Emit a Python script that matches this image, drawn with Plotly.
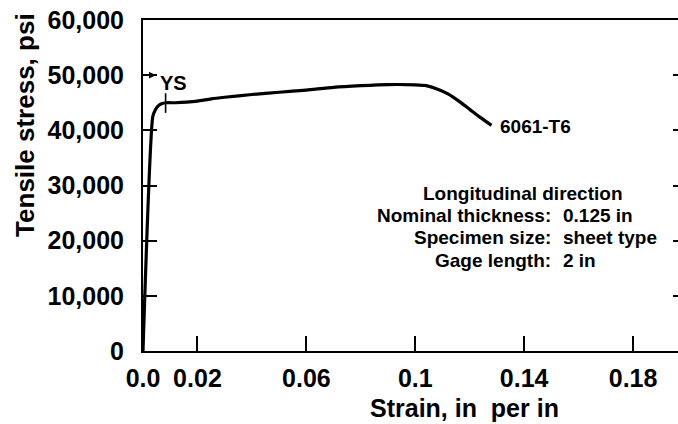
import plotly.graph_objects as go

# Data
strain = [0.0, 0.0036, 0.0045, 0.0055, 0.007, 0.0085, 0.012, 0.016, 0.02, 0.025,
          0.03, 0.04, 0.05, 0.06, 0.07, 0.08, 0.09, 0.1, 0.104, 0.108, 0.112,
          0.116, 0.12, 0.124, 0.128]
stress = [0, 42500, 43700, 44400, 44850, 45000, 45000, 45100, 45300, 45700,
          46000, 46500, 46900, 47300, 47800, 48100, 48300, 48250, 48100, 47500, 46600,
          45300, 43800, 42300, 40900]
ys_strain = [0.0083]
ys_stress = [44950]

x_tickvals = [0.0, 0.02, 0.06, 0.1, 0.14, 0.18]
x_ticktext = ["0.0", "0.02", "0.06", "0.1", "0.14", "0.18"]
y_tickvals = [0, 10000, 20000, 30000, 40000, 50000, 60000]
y_ticktext = ["0", "10,000", "20,000", "30,000", "40,000", "50,000", "60,000"]
right_tickvals = [10000, 20000, 30000, 40000, 50000]

alloy_label = "6061-T6"
info_title = "Longitudinal direction"
info_labels = ["Nominal thickness:", "Specimen size:", "Gage length:"]
info_values = ["0.125 in", "sheet type", "2 in"]

FONT = "Liberation Sans, Arial, Helvetica, sans-serif"

fig = go.Figure()
fig.add_trace(go.Scatter(x=strain, y=stress, mode="lines",
                         line=dict(color="black", width=3.2, shape="spline", smoothing=0.6),
                         hoverinfo="skip", showlegend=False))
fig.add_trace(go.Scatter(x=ys_strain, y=ys_stress, mode="markers",
                         marker=dict(symbol="line-ns-open", size=14, color="black",
                                     line=dict(color="black", width=1.6)),
                         hoverinfo="skip", showlegend=False))
fig.add_trace(go.Scatter(x=[strain[0]], y=[stress[0]], mode="markers", yaxis="y2",
                         marker=dict(opacity=0), hoverinfo="skip", showlegend=False))

ann = []
ann.append(dict(x=0.0112, y=48580, xref="x", yref="y", text="YS", showarrow=False,
                font=dict(family=FONT, size=20, color="black", weight="bold")))
ann.append(dict(x=0.0047, y=50000, ax=0.0, ay=50000, xref="x", yref="y",
                axref="x", ayref="y", text="", showarrow=True, arrowhead=2,
                arrowsize=0.9, arrowwidth=1.5, arrowcolor="black"))
ann.append(dict(x=0.1304, y=40780, xref="x", yref="y", text=alloy_label, showarrow=False,
                xanchor="left", font=dict(family=FONT, size=19, color="black", weight="bold")))
ann.append(dict(x=0.1394, y=28640, xref="x", yref="y", text=info_title, showarrow=False,
                font=dict(family=FONT, size=19, color="black", weight="bold")))
row_y = [24650, 20660, 16490]
for lab, val, yy in zip(info_labels, info_values, row_y):
    ann.append(dict(x=0.1506, y=yy, xref="x", yref="y", text=lab, showarrow=False,
                    xanchor="right", font=dict(family=FONT, size=19, color="black", weight="bold")))
    ann.append(dict(x=0.1536, y=yy, xref="x", yref="y", text=val, showarrow=False,
                    xanchor="left", font=dict(family=FONT, size=19, color="black", weight="bold")))
ann.append(dict(x=0.6, y=-0.172, xref="paper", yref="paper", text="Strain, in&nbsp; per in",
                showarrow=False, xanchor="center", yanchor="middle",
                font=dict(family=FONT, size=25, color="black", weight="bold")))
ann.append(dict(x=-0.2206, y=0.683, xref="paper", yref="paper", text="Tensile stress, psi",
                showarrow=False, textangle=-90, xanchor="center", yanchor="middle",
                font=dict(family=FONT, size=26, color="black", weight="bold")))

fig.update_layout(
    width=678, height=424,
    margin=dict(l=143, r=0, t=20, b=73, autoexpand=False),
    paper_bgcolor="white", plot_bgcolor="white",
    showlegend=False,
    annotations=ann,
    xaxis=dict(range=[0, 0.1965], tickvals=x_tickvals, ticktext=x_ticktext,
               ticks="inside", ticklen=15, tickwidth=1.8, tickcolor="black",
               showline=True, linewidth=2, linecolor="black", mirror=True,
               showgrid=False, zeroline=False, ticklabelstandoff=4, automargin=False,
               ticklabeloverflow="allow",
               tickfont=dict(family=FONT, size=25, color="black", weight="bold")),
    yaxis=dict(range=[0, 60000], tickvals=y_tickvals, ticktext=y_ticktext,
               ticks="inside", ticklen=14, tickwidth=1.8, tickcolor="black",
               showline=True, linewidth=2, linecolor="black",
               showgrid=False, zeroline=False, ticklabelstandoff=12, automargin=False,
               ticklabeloverflow="allow",
               tickfont=dict(family=FONT, size=25, color="black", weight="bold")),
    yaxis2=dict(range=[0, 60000], overlaying="y", side="right", tickvals=right_tickvals,
                ticks="inside", ticklen=5, tickwidth=1.8, tickcolor="black", automargin=False,
                showticklabels=False, showline=False, showgrid=False, zeroline=False),
)

fig.write_html("out.html", config={"displayModeBar": False},
               post_script="document.body.style.margin='0';document.body.style.overflow='hidden';")
